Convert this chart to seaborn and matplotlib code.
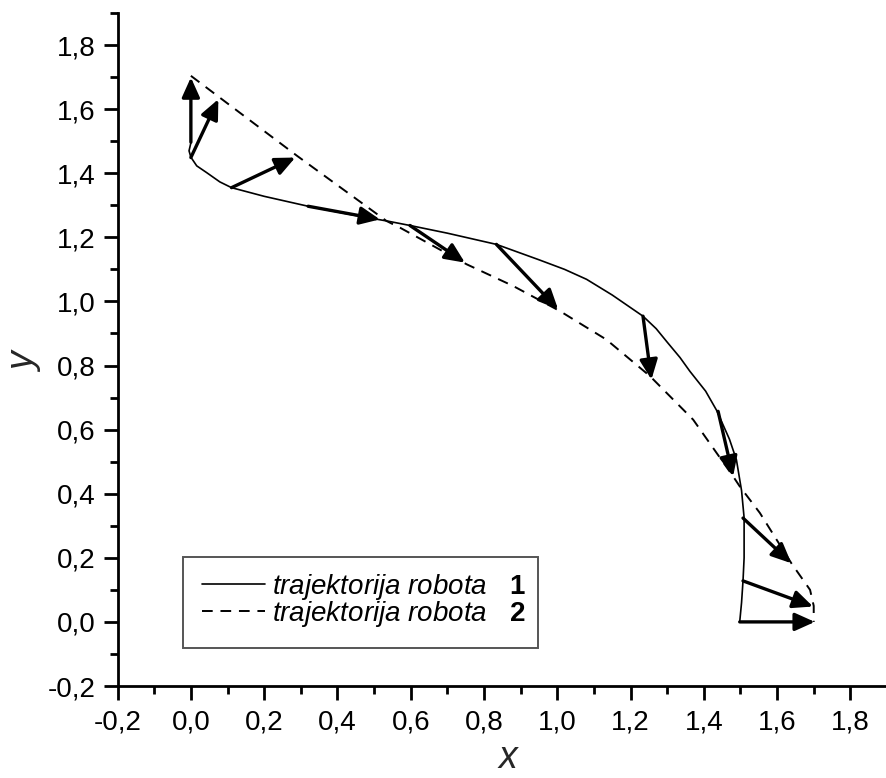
import numpy as np
import pandas as pd
import seaborn as sns
import matplotlib.pyplot as plt
from matplotlib.patches import Rectangle
from matplotlib.ticker import FixedLocator, FixedFormatter, MultipleLocator

# trajektorija robota 1 (puna linija)
x1 = [0.0, -0.005, 0.0, 0.016, 0.043, 0.079, 0.111, 0.2, 0.32, 0.45, 0.54, 0.598, 0.7,
      0.834, 0.95, 1.02, 1.08, 1.15, 1.234, 1.27, 1.3, 1.335, 1.362, 1.405, 1.435,
      1.47, 1.489, 1.503, 1.51, 1.51, 1.507, 1.503, 1.498]
y1 = [1.495, 1.47, 1.45, 1.423, 1.402, 1.373, 1.355, 1.328, 1.297, 1.268, 1.25, 1.237,
      1.213, 1.178, 1.13, 1.1, 1.069, 1.02, 0.954, 0.915, 0.873, 0.825, 0.782, 0.72,
      0.66, 0.57, 0.506, 0.41, 0.325, 0.2, 0.128, 0.06, 0.0]

# trajektorija robota 2 (isprekidana linija)
x2 = [0.0, 0.08, 0.289, 0.534, 0.571, 0.7525, 0.88, 1.007, 1.134, 1.253, 1.371, 1.48,
      1.498, 1.553, 1.639, 1.69, 1.70, 1.70]
y2 = [1.704, 1.635, 1.455, 1.251, 1.23, 1.116, 1.048, 0.97, 0.881, 0.767, 0.631, 0.454,
      0.423, 0.34, 0.183, 0.1, 0.05, 0.0]

# strelice: od tacke na 1 do tacke na 2
arr_x0 = [0.0, 0.0, 0.111, 0.32, 0.598, 0.834, 1.234, 1.439, 1.507, 1.507, 1.498]
arr_y0 = [1.497, 1.449, 1.355, 1.297, 1.237, 1.178, 0.954, 0.657, 0.324, 0.128, 0.0]
arr_x1 = [0.0, 0.075, 0.285, 0.516, 0.748, 1.0025, 1.257, 1.48, 1.639, 1.698, 1.703]
arr_y1 = [1.699, 1.631, 1.449, 1.256, 1.121, 0.975, 0.756, 0.454, 0.183, 0.048, 0.0]

tick_vals = [-0.2, 0.0, 0.2, 0.4, 0.6, 0.8, 1.0, 1.2, 1.4, 1.6, 1.8]
tick_labels = ['-0,2', '0,0', '0,2', '0,4', '0,6', '0,8', '1,0', '1,2', '1,4', '1,6', '1,8']

sns.set_style('ticks')
plt.rcParams['font.family'] = ['Liberation Sans', 'DejaVu Sans']
plt.rcParams['mathtext.fontset'] = 'custom'
plt.rcParams['mathtext.rm'] = 'Liberation Sans'
plt.rcParams['mathtext.it'] = 'Liberation Sans:italic'
plt.rcParams['mathtext.bf'] = 'Liberation Sans:bold'

fig = plt.figure(figsize=(8.87, 7.78), dpi=100)
ax = fig.add_axes([117.6 / 887, 92 / 778, (887 - 117.6) / 887, (686 - 13) / 778])

df1 = pd.DataFrame({'x': x1, 'y': y1})
df2 = pd.DataFrame({'x': x2, 'y': y2})
sns.lineplot(data=df1, x='x', y='y', sort=False, estimator=None, color='black',
             lw=1.2, ax=ax)
sns.lineplot(data=df2, x='x', y='y', sort=False, estimator=None, color='black',
             lw=1.4, linestyle=(0, (5.5, 4)), ax=ax)

for xa, ya, xb, yb in zip(arr_x0, arr_y0, arr_x1, arr_y1):
    ax.annotate('', xy=(xb, yb), xytext=(xa, ya),
                arrowprops=dict(arrowstyle='-|>,head_length=0.6,head_width=0.27',
                                mutation_scale=20, lw=2.4, color='black',
                                shrinkA=0, shrinkB=0))

ax.set_xlim(-0.2, 1.9)
ax.set_ylim(-0.2, 1.9)
for axis in (ax.xaxis, ax.yaxis):
    axis.set_major_locator(FixedLocator(tick_vals))
    axis.set_major_formatter(FixedFormatter(tick_labels))
    axis.set_minor_locator(MultipleLocator(0.1))

sns.despine(ax=ax)
for s in ('left', 'bottom'):
    ax.spines[s].set_linewidth(2)
    ax.spines[s].set_color('black')
ax.tick_params(which='major', length=10, width=2, labelsize=20, color='black',
               labelcolor='black')
ax.tick_params(which='minor', length=5.5, width=2, color='black')
ax.tick_params(axis='x', which='major', pad=7)
ax.tick_params(axis='y', which='major', pad=6)

ax.set_xlabel('x', fontsize=27, style='italic')
ax.set_ylabel('y', fontsize=27, style='italic')
ax.xaxis.label.set_va('baseline')
ax.xaxis.set_label_coords(0.507, -0.1225)
ax.yaxis.set_label_coords(-0.097, 0.48)

# legenda
lines = ax.get_lines()
leg = ax.legend([lines[0], lines[1]],
                [r'$\it{trajektorija\ robota}\ \ \ \bf{1}$',
                 r'$\it{trajektorija\ robota}\ \ \ \bf{2}$'],
                loc='center left', bbox_to_anchor=(0.1093, 0.127), frameon=False,
                fontsize=20, handlelength=2.27, handletextpad=0.25, labelspacing=-0.1,
                borderpad=0, borderaxespad=0)
for t in leg.get_texts():
    t.set_color('black')
ax.add_patch(Rectangle((0.0854, 0.056), 0.546 - 0.0854, 0.191 - 0.056,
                       transform=ax.transAxes, fill=False, edgecolor='#555555',
                       lw=1.4, zorder=5))

fig.savefig('out.png', dpi=100)
